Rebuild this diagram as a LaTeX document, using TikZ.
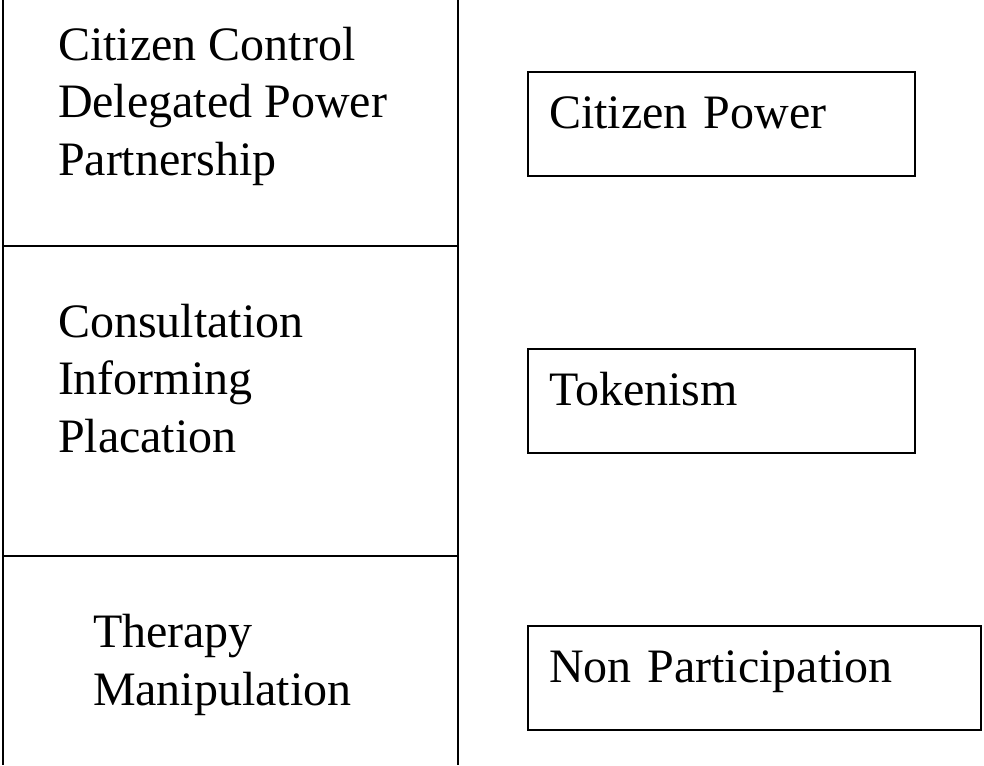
\documentclass[tikz,border=0pt]{standalone}
\usepackage{fontspec}
\setmainfont{Liberation Serif}
\usetikzlibrary{positioning}

\begin{document}
\begin{tikzpicture}[x=0.5pt,y=-0.5pt,line width=1pt,
		rung/.style={anchor=base west,align=left,inner sep=0pt,font=\fontsize{24}{28.75}\selectfont},
		level/.style={draw,anchor=north west,align=left,outer sep=0pt,inner xsep=10.5pt,inner ysep=0pt,
			text height=28pt,text depth=24pt,font=\fontsize{24}{28.75}\selectfont}]
						\useasboundingbox (0,0) rectangle (984,765);
						% the ladder
						\draw (3,0) -- (3,765);
						\draw (457.5,0) -- (457.5,765);
						\draw (3,245.5) -- (457.5,245.5);
						\draw (3,556) -- (457.5,556);
						% base anchor sits on the last line
						\node[rung] (top) at (57,175) {Citizen Control\\Delegated Power\\Partnership};
						\node[rung] (mid) at (57,452) {Consultation\\Informing\\Placation};
						\node[rung] (low) at (92,705) {Therapy\\Manipulation};
						% the levels
						\node[level,text width=172.5pt] (power) at (528,72) {Citizen Power};
						\node[level,text width=172.5pt] (token) at (528,349) {Tokenism};
						\node[level,text width=205.5pt] (nonpart) at (528,626) {Non Participation};
					\end{tikzpicture}
\end{document}
